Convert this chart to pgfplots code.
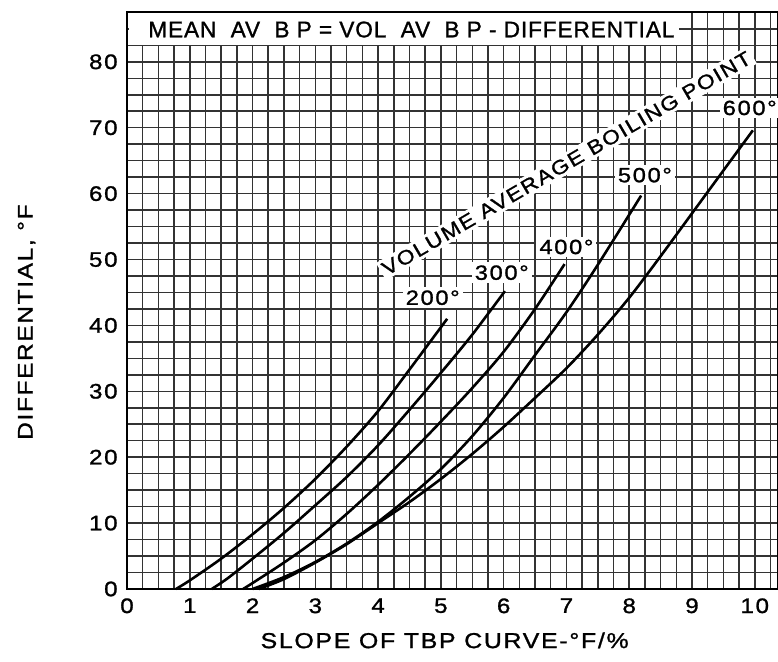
\documentclass[border=0pt]{standalone}
\usepackage{fontspec}
\setmainfont{Liberation Sans}
\newfontfamily\lf[FakeStretch=1.15,LetterSpace=8,FakeBold=1.2]{Liberation Sans}
\newfontfamily\lt[FakeStretch=1.0,LetterSpace=4,FakeBold=1.2]{Liberation Sans}
\usepackage{pgfplots}
\pgfplotsset{compat=1.18}
\begin{document}
\begin{tikzpicture}
\begin{axis}[
  scale only axis, width=325.5pt, height=288.3pt,
  xmin=0, xmax=10.37, ymin=0, ymax=87.5,
  xtick={0,1,...,10}, ytick={0,10,...,80},
  minor xtick={0,0.25,...,10.3}, minor ytick={0,2.5,...,87.6},
  grid=both,
  major grid style={black!80, line width=0.75pt},
  minor grid style={black!80, line width=0.75pt},
  major tick length=0pt, minor tick length=0pt,
  axis line style={black, line width=1pt},
  /pgf/number format/assume math mode=true,
  tick label style={font=\lf\fontsize{10.5}{11}\selectfont, inner sep=0pt},
  xticklabel style={anchor=north, yshift=-4.5pt},
  yticklabel style={anchor=east, xshift=-4.5pt},
  clip=false,
]
% 200 deg
\addplot[black, line width=1.3pt, smooth] coordinates {
 (0.78,0) (1.0,1.3) (1.5,4.6) (2.0,8.3) (2.5,12.3) (3.0,16.7) (3.5,21.6) (4.0,27.0) (4.5,33.3) (5.1,41.0)};
% 300 deg
\addplot[black, line width=1.3pt, smooth] coordinates {
 (1.35,0) (1.6,1.6) (2.0,4.6) (2.5,8.5) (3.0,12.7) (3.5,17.0) (4.0,21.8) (4.5,27.2) (5.0,32.8) (5.5,38.6) (6.02,45.2)};
% 400 deg
\addplot[black, line width=1.3pt, smooth] coordinates {
 (1.85,0) (2.0,0.9) (2.5,4.0) (3.0,7.4) (3.5,11.4) (4.0,15.8) (4.5,20.5) (5.0,25.4) (5.5,30.5) (6.0,36.0) (6.5,42.5) (6.97,49.3)};
% 500 deg
\addplot[black, line width=1.3pt, smooth] coordinates {
 (2.0,0) (2.5,1.8) (3.0,4.1) (3.5,6.9) (4.0,10.2) (4.5,14.0) (5.0,18.2) (5.5,23.2) (6.0,29.0) (6.5,35.5) (7.0,42.0) (7.5,49.2) (8.19,59.7)};
% 600 deg
\addplot[black, line width=1.3pt, smooth] coordinates {
 (2.1,0) (2.5,1.5) (3.0,4.0) (3.5,6.8) (4.0,10.0) (4.5,13.2) (5.0,16.7) (5.5,20.5) (6.0,24.6) (6.5,29.0) (7.0,33.5) (7.5,38.6) (8.0,44.2) (8.5,50.5) (9.0,57.0) (9.5,63.5) (9.97,69.6)};

\fill[white] (axis cs:0.03,82.6) rectangle (axis cs:8.8,87.35);
\node[font=\lt\fontsize{11.3}{12}\selectfont, inner sep=0pt] at (axis cs:4.53,84.9) {MEAN\ \ AV\ \ B P = VOL\ \ AV\ \ B P - DIFFERENTIAL};

\tikzset{cl/.style={fill=white, inner sep=1.5pt, font=\lf\fontsize{10.3}{11}\selectfont}}
\node[cl] at (axis cs:4.87,44.2) {200°};
\node[cl] at (axis cs:5.97,48.0) {300°};
\node[cl] at (axis cs:7.0,51.9) {400°};
\node[cl] at (axis cs:8.25,62.8) {500°};
\node[cl] at (axis cs:9.92,73.0) {600°};
\node[cl, font=\lf\fontsize{9.9}{11}\selectfont, rotate=30.3] at (axis cs:7.0,64.6) {VOLUME AVERAGE BOILING POINT};

\node[font=\lf\fontsize{10.6}{11}\selectfont, rotate=90] at (axis cs:-1.6,40.5) {DIFFERENTIAL, °F};
\node[font=\lf\fontsize{10.8}{11}\selectfont] at (axis cs:5.06,-7.8) {SLOPE OF TBP CURVE-°F/\%};

\coordinate (SW) at (rel axis cs:0,0);
\coordinate (NE) at (rel axis cs:1,1);
\end{axis}
\pgfresetboundingbox
\path[use as bounding box] ([xshift=-63.5pt,yshift=-36.5pt]SW) rectangle ([yshift=6.2pt]NE);
\end{tikzpicture}
\end{document}
